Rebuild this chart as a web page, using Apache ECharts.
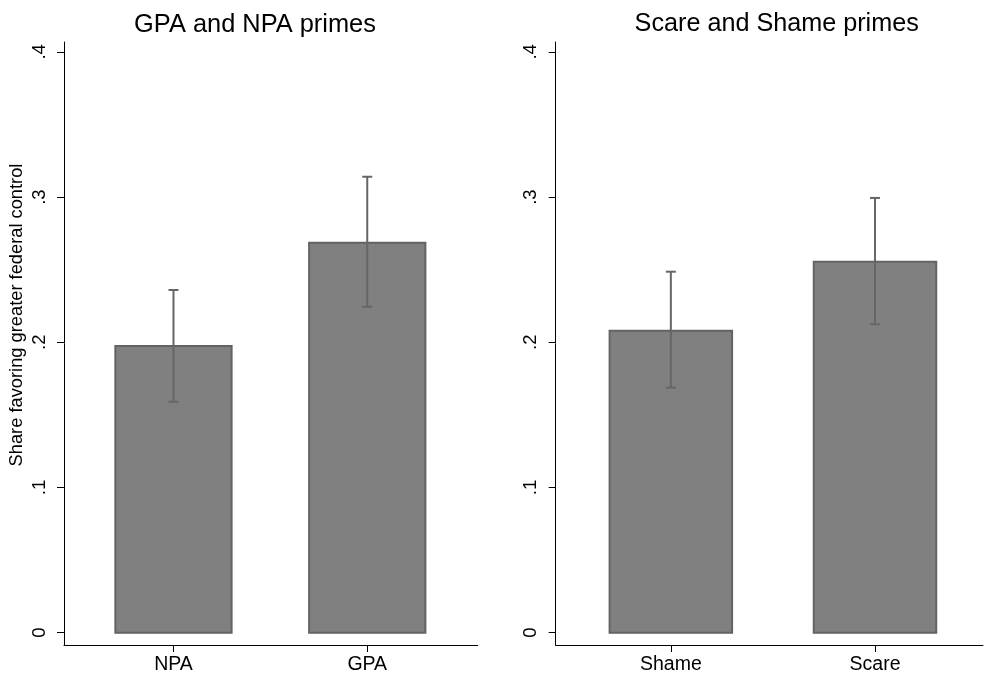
<!DOCTYPE html>
<html>
<head>
<meta charset="utf-8">
<script src="https://cdn.jsdelivr.net/npm/echarts@6/dist/echarts.min.js"></script>
<style>
html,body{margin:0;padding:0;background:#fff;}
#chart{width:984px;height:676px;}
</style>
</head>
<body>
<div id="chart"></div>
<script>
var leftTitle = 'GPA and NPA primes';
var rightTitle = 'Scare and Shame primes';
var yAxisTitle = 'Share favoring greater federal control';

var leftCats = ['NPA', 'GPA'];
var leftMeans = [0.1975, 0.2686];
var leftLo = [0.159, 0.2245];
var leftHi = [0.236, 0.314];

var rightCats = ['Shame', 'Scare'];
var rightMeans = [0.208, 0.2555];
var rightLo = [0.1687, 0.2124];
var rightHi = [0.2486, 0.2994];

var yTicks = [0, 0.1, 0.2, 0.3, 0.4];
var catPositions = [1, 2];

var FONT = '"Liberation Sans", Arial, Helvetica, sans-serif';
var BAR_HALF = 0.3;

function buildRows(means, lo, hi) {
  return means.map(function (m, i) { return [catPositions[i], m, lo[i], hi[i]]; });
}

function renderBar(params, api) {
  var x = api.value(0), m = api.value(1);
  var p0 = api.coord([x - BAR_HALF, 0]);
  var p1 = api.coord([x + BAR_HALF, m]);
  return {
    type: 'rect',
    shape: { x: p0[0], y: p1[1], width: p1[0] - p0[0], height: p0[1] - p1[1] },
    style: { fill: '#808080', stroke: '#636363', lineWidth: 2 }
  };
}

function renderErr(params, api) {
  var x = api.value(0);
  var lo = api.coord([x, api.value(2)]);
  var hi = api.coord([x, api.value(3)]);
  var cap = 5;
  var st = { stroke: '#666666', lineWidth: 2 };
  return {
    type: 'group',
    children: [
      { type: 'line', shape: { x1: lo[0], y1: lo[1], x2: hi[0], y2: hi[1] }, style: st },
      { type: 'line', shape: { x1: lo[0] - cap, y1: lo[1], x2: lo[0] + cap, y2: lo[1] }, style: st },
      { type: 'line', shape: { x1: hi[0] - cap, y1: hi[1], x2: hi[0] + cap, y2: hi[1] }, style: st }
    ]
  };
}

function xAxisFor(idx, cats, min, max) {
  return {
    gridIndex: idx, type: 'value', min: min, max: max,
    splitLine: { show: false },
    axisLine: { show: true, onZero: false, lineStyle: { color: '#000', width: 1 } },
    axisTick: { show: true, customValues: catPositions, length: 7, lineStyle: { color: '#000' } },
    axisLabel: {
      customValues: catPositions, margin: 10,
      fontFamily: FONT, fontSize: 19.5, color: '#000',
      formatter: function (v) { return cats[Math.round(v) - 1] || ''; }
    }
  };
}

function yAxisFor(idx) {
  return {
    gridIndex: idx, type: 'value', min: -0.0085, max: 0.4068,
    splitLine: { show: false },
    axisLine: { show: true, onZero: false, lineStyle: { color: '#000', width: 1 } },
    axisTick: { show: true, customValues: yTicks, length: 7, lineStyle: { color: '#000' } },
    axisLabel: {
      customValues: yTicks, rotate: 90, margin: 15,
      fontFamily: FONT, fontSize: 18.5, color: '#000',
      formatter: function (v) {
        if (Math.abs(v) < 1e-9) return '0';
        return String(Math.round(v * 10) / 10).replace(/^0/, '');
      }
    }
  };
}

var chart = echarts.init(document.getElementById('chart'), null, { renderer: 'canvas' });
chart.setOption({
  backgroundColor: '#fff',
  animation: false,
  title: [
    { text: leftTitle, left: 250, top: 7, textAlign: 'center',
      textStyle: { fontFamily: FONT, fontSize: 25.4, fontWeight: 'normal', color: '#000' } },
    { text: rightTitle, left: 771.7, top: 7, textAlign: 'center',
      textStyle: { fontFamily: FONT, fontSize: 25.2, fontWeight: 'normal', color: '#000' } }
  ],
  grid: [
    { left: 64, top: 42, width: 413.7, height: 603 },
    { left: 555.7, top: 42, right: 1, height: 603 }
  ],
  xAxis: [
    xAxisFor(0, leftCats, 0.435, 2.570),
    xAxisFor(1, rightCats, 0.436, 2.529)
  ],
  yAxis: [yAxisFor(0), yAxisFor(1)],
  graphic: [{
    type: 'text', x: 17, y: 315, rotation: Math.PI / 2,
    style: { text: yAxisTitle, fontFamily: FONT, fontSize: 18.3, fill: '#000',
             align: 'center', verticalAlign: 'middle' }
  }],
  series: [
    { type: 'custom', xAxisIndex: 0, yAxisIndex: 0, renderItem: renderBar,
      data: buildRows(leftMeans, leftLo, leftHi), z: 2 },
    { type: 'custom', xAxisIndex: 0, yAxisIndex: 0, renderItem: renderErr,
      data: buildRows(leftMeans, leftLo, leftHi), z: 3 },
    { type: 'custom', xAxisIndex: 1, yAxisIndex: 1, renderItem: renderBar,
      data: buildRows(rightMeans, rightLo, rightHi), z: 2 },
    { type: 'custom', xAxisIndex: 1, yAxisIndex: 1, renderItem: renderErr,
      data: buildRows(rightMeans, rightLo, rightHi), z: 3 }
  ]
});
</script>
</body>
</html>
